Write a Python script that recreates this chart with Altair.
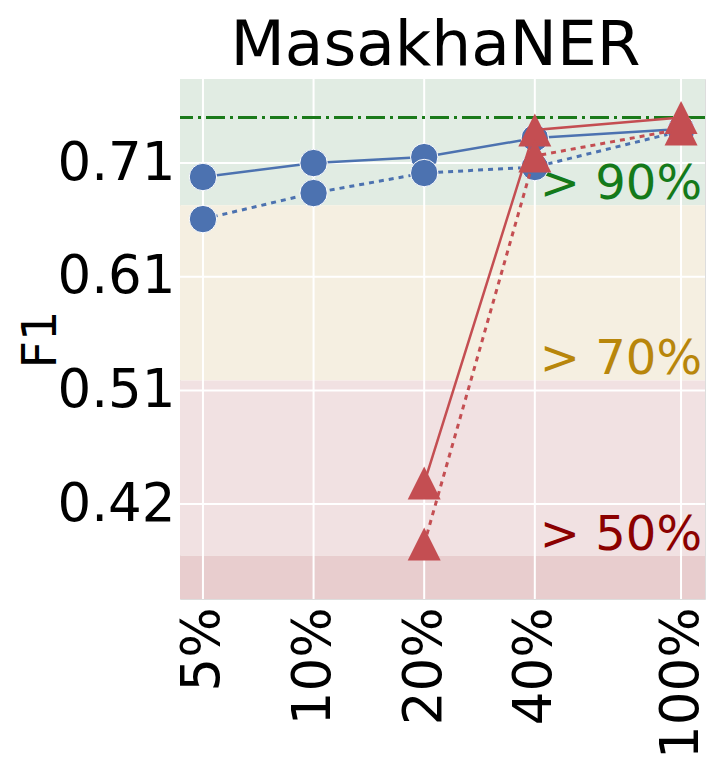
import altair as alt
import pandas as pd

# ---- data ----
pcts = [5, 10, 20, 40, 100]
blue_solid = [0.6968, 0.7087, 0.7138, 0.7300, 0.7377]
blue_dotted = [0.6609, 0.6831, 0.7002, 0.7053, 0.7360]
red_pcts = [20, 40, 100]
red_solid = [0.4357, 0.7369, 0.7475]
red_dotted = [0.3837, 0.7147, 0.7377]
max_score = 0.7475
band_fracs = [0.9, 0.7, 0.5]
band_labels = ["> 90%", "> 70%", "> 50%"]
band_text_colors = ["#147a1a", "#b8860b", "#8b0000"]
y_ticks = [0.4178, 0.5147, 0.6117, 0.7087]
x_domain = [4.33, 116.2]
y_domain = [0.3368, 0.7804]

FONT = "DejaVu Sans"
BLUE = "#4c72b0"
RED = "#c44e52"

xs = alt.Scale(type="log", domain=x_domain, nice=False, zero=False)
ys = alt.Scale(domain=y_domain, nice=False, zero=False)

bands = pd.DataFrame({
    "y": [max_score * band_fracs[0], max_score * band_fracs[1], max_score * band_fracs[2], y_domain[0]],
    "y2": [y_domain[1], max_score * band_fracs[0], max_score * band_fracs[1], max_score * band_fracs[2]],
    "c": ["#e1ece3", "#f5efe1", "#f1e1e2", "#e8cdce"],
})

band_rects = alt.Chart(bands).mark_rect().encode(
    x=alt.value(0), x2=alt.value(525),
    y=alt.Y("y:Q", scale=ys, axis=alt.Axis(
        values=y_ticks, format=".2f", grid=False, domain=False, ticks=False,
        labelFontSize=53, labelFont=FONT, labelColor="black", labelPadding=5,
        title="F1", titleFontSize=48, titleFont=FONT, titleFontWeight="normal",
        titleColor="black", titleAngle=-90, titleX=-125, titleBaseline="alphabetic")),
    y2="y2:Q",
    color=alt.Color("c:N", scale=None),
)

xgrid = alt.Chart(pd.DataFrame({"x": pcts})).mark_rule(color="white", strokeWidth=2).encode(
    x=alt.X("x:Q", scale=xs, axis=alt.Axis(
        values=pcts, labelExpr="datum.value + '%'", grid=False, domain=False, ticks=False,
        labelAngle=-90, labelFontSize=53, labelFont=FONT, labelColor="black",
        labelPadding=8, title=None)),
)
ygrid = alt.Chart(pd.DataFrame({"y": y_ticks})).mark_rule(color="white", strokeWidth=2).encode(
    y=alt.Y("y:Q", scale=ys),
)

maxline = alt.Chart(pd.DataFrame({"y": [max_score]})).mark_rule(
    color="#1a7a1a", strokeWidth=3, strokeDash=[19, 5, 3, 5]).encode(
    y=alt.Y("y:Q", scale=ys),
)

texts = alt.Chart(pd.DataFrame({
    "x": [x_domain[1]] * 3,
    "y": [max_score * f for f in band_fracs],
    "t": band_labels,
    "c": band_text_colors,
})).mark_text(align="right", baseline="alphabetic", dx=-3, dy=-6, fontSize=48, font=FONT).encode(
    x=alt.X("x:Q", scale=xs), y=alt.Y("y:Q", scale=ys), text="t:N",
    color=alt.Color("c:N", scale=None),
)

df_bs = pd.DataFrame({"x": pcts, "y": blue_solid})
df_bd = pd.DataFrame({"x": pcts, "y": blue_dotted})
df_rs = pd.DataFrame({"x": red_pcts, "y": red_solid})
df_rd = pd.DataFrame({"x": red_pcts, "y": red_dotted})

TRI = "M0,-1L-1,1L1,1Z"

def line(df, color, dash=None):
    kw = dict(color=color, strokeWidth=2.5)
    if dash:
        kw["strokeDash"] = dash
        kw["strokeWidth"] = 3
    return alt.Chart(df).mark_line(**kw).encode(
        x=alt.X("x:Q", scale=xs), y=alt.Y("y:Q", scale=ys))

def pts(df, color, shape, size, stroke):
    kw = dict(color=color, filled=True, opacity=1, shape=shape, size=size)
    if stroke:
        kw["stroke"] = "white"
        kw["strokeWidth"] = 1
    return alt.Chart(df).mark_point(**kw).encode(
        x=alt.X("x:Q", scale=xs), y=alt.Y("y:Q", scale=ys))

chart = alt.layer(
    band_rects, xgrid, ygrid, maxline, texts,
    line(df_bs, BLUE), pts(df_bs, BLUE, "circle", 750, True),
    line(df_bd, BLUE, [5, 5]), pts(df_bd, BLUE, "circle", 750, True),
    line(df_rs, RED), pts(df_rs, RED, TRI, 1089, False),
    line(df_rd, RED, [5, 5]), pts(df_rd, RED, TRI, 1089, False),
).properties(
    width=525, height=520,
    title=alt.Title("MasakhaNER", fontSize=63, font=FONT, fontWeight="normal",
                    color="black", anchor="middle", offset=0, dx=-7),
    autosize=alt.AutoSizeParams(type="none"),
    padding={"left": 172, "top": 71, "right": 5, "bottom": 162},
).configure_view(stroke=None).configure(background="white")

chart.save("out.html", embed_options={"renderer": "svg", "actions": False})
